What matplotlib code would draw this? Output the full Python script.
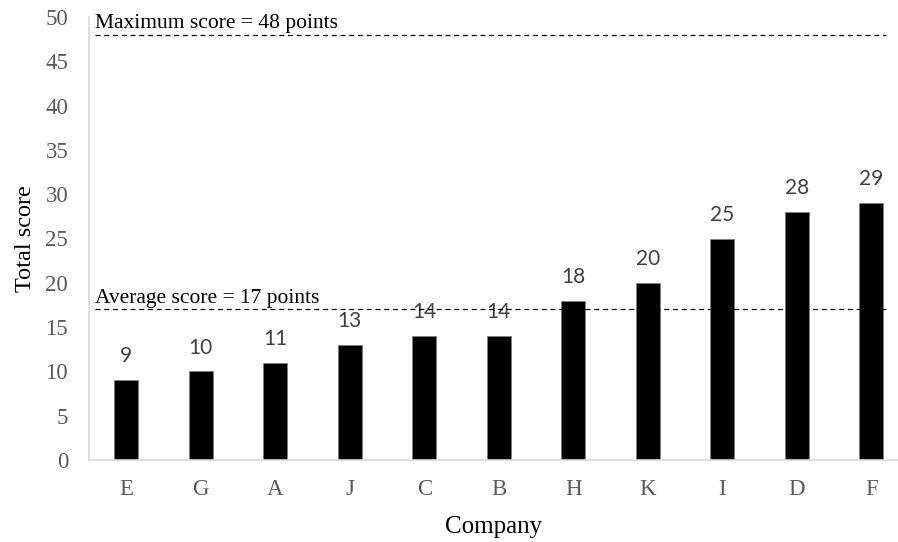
import matplotlib
matplotlib.use("Agg")
import matplotlib.pyplot as plt

# Company scores, sorted ascending
companies = ["E", "G", "A", "J", "C", "B", "H", "K", "I", "D", "F"]
scores = [9, 10, 11, 13, 14, 14, 18, 20, 25, 28, 29]
max_score = 48
avg_score = 17
y_ticks = [0, 5, 10, 15, 20, 25, 30, 35, 40, 45, 50]

W, H = 898, 542
fig = plt.figure(figsize=(W / 100, H / 100), dpi=100)
ax = fig.add_axes([89 / W, 1 - 460 / H, (W - 89) / W, 443 / H])

serif = "Liberation Serif"
x = list(range(len(companies)))
ax.bar(x, scores, width=0.32, color="black", edgecolor="#7f7f7f", linewidth=0.6, zorder=2)

for xi, v in zip(x, scores):
    ax.annotate(str(v), (xi, v), xytext=(0, 10), textcoords="offset points",
                ha="center", va="bottom", fontsize=15, color="#404040",
                family="Lato")

# Reference lines for maximum and average score
for val, label in [(max_score, "Maximum score = 48 points"),
                   (avg_score, "Average score = 17 points")]:
    ax.hlines(val, -0.42, 10.2, colors="black", linestyles=(0, (4, 3)),
              linewidth=0.9, zorder=3)
    ax.annotate(label, (-0.42, val), xytext=(0, 1), textcoords="offset points",
                ha="left", va="bottom", fontsize=15.5, color="black", family=serif)

ax.set_xlim(-0.5, -0.5 + (W - 89) / 74.5)
ax.set_ylim(0, 50)
ax.set_yticks(y_ticks)
ax.set_xticks(x)
ax.set_xticklabels(companies)

for lab in ax.get_xticklabels() + ax.get_yticklabels():
    lab.set_family(serif)
    lab.set_fontsize(16.5)
    lab.set_color("#595959")

ax.tick_params(axis="both", length=0)
ax.tick_params(axis="x", pad=14)
ax.tick_params(axis="y", pad=15)

for side in ["top", "right"]:
    ax.spines[side].set_visible(False)
for side in ["left", "bottom"]:
    ax.spines[side].set_color("#d9d9d9")
    ax.spines[side].set_linewidth(1.2)

ax.set_xlabel("Company", fontsize=18, family=serif, color="black", labelpad=11)
ax.set_ylabel("Total score", fontsize=17.5, family=serif, color="black", labelpad=7)

fig.savefig("out.png", dpi=100)
